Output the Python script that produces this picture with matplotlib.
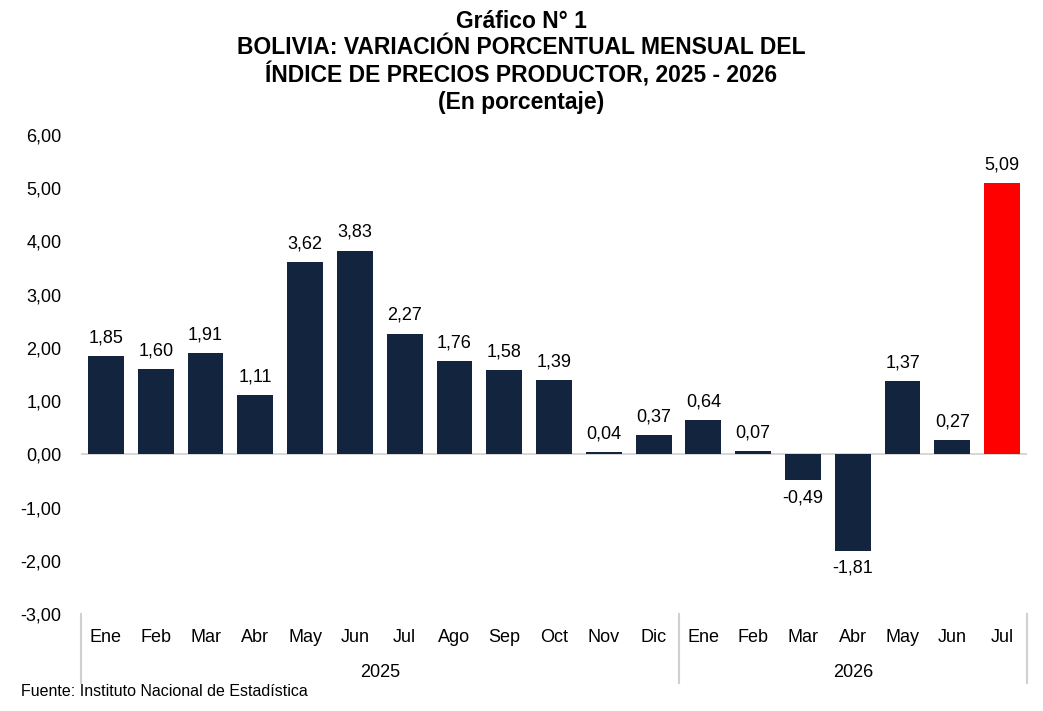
import matplotlib.pyplot as plt
import numpy as np

plt.rcParams['font.family'] = ['Liberation Sans', 'DejaVu Sans']

meses = ["Ene", "Feb", "Mar", "Abr", "May", "Jun", "Jul", "Ago", "Sep", "Oct", "Nov", "Dic",
         "Ene", "Feb", "Mar", "Abr", "May", "Jun", "Jul"]
anios = ["2025", "2026"]
meses_por_anio = [12, 7]
valores = [1.85, 1.60, 1.91, 1.11, 3.62, 3.83, 2.27, 1.76, 1.58, 1.39, 0.04, 0.37,
           0.64, 0.07, -0.49, -1.81, 1.37, 0.27, 5.09]

azul = "#13243f"
rojo = "#ff0000"
gris = "#d0d0d0"

fig = plt.figure(figsize=(10.43, 7.11), dpi=100)
ax = fig.add_axes([0.0777, 0.1364, 0.907, 0.6737])

x = np.arange(len(valores))
colores = [azul] * (len(valores) - 1) + [rojo]
ax.bar(x, valores, width=0.72, color=colores, zorder=2)

for xi, v in zip(x, valores):
    if v >= 0:
        ax.text(xi, v + 0.18, f"{v:.2f}".replace(".", ","), ha="center", va="bottom", fontsize=13)
    else:
        ax.text(xi, v - 0.17, f"{v:.2f}".replace(".", ","), ha="center", va="top", fontsize=13)

ax.set_xlim(-0.5, len(valores) - 0.5)
ax.set_ylim(-3, 6)
ax.set_yticks(np.arange(-3, 7, 1))
ax.set_yticklabels([f"{t:.2f}".replace(".", ",") for t in np.arange(-3, 7, 1)], fontsize=13)
ax.tick_params(axis="y", length=0, pad=14)
ax.set_xticks([])
ax.axhline(0, color=gris, lw=1.2, zorder=1)
for s in ax.spines.values():
    s.set_visible(False)

# etiquetas de meses y años bajo el eje
trans = ax.get_xaxis_transform()
for xi, m in zip(x, meses):
    ax.text(xi, -0.05, m, transform=trans, ha="center", va="center", fontsize=13)

inicio = 0
bordes = [-0.5]
for a, n in zip(anios, meses_por_anio):
    centro = inicio + (n - 1) / 2
    ax.text(centro, -0.123, a, transform=trans, ha="center", va="center", fontsize=13)
    inicio += n
    bordes.append(inicio - 0.5)
for b in bordes:
    ax.plot([b, b], [0, -0.145], transform=trans, color=gris, lw=1.5, clip_on=False)

fig.text(0.5, 0.986, "Gráfico N° 1\nBOLIVIA: VARIACIÓN PORCENTUAL MENSUAL DEL\n"
         "ÍNDICE DE PRECIOS PRODUCTOR, 2025 - 2026\n(En porcentaje)",
         ha="center", va="top", fontsize=16.5, fontweight="bold", linespacing=1.18)
fig.text(0.02, 0.027, "Fuente: Instituto Nacional de Estadística", ha="left", va="center", fontsize=11.5)

fig.savefig("out.png", dpi=100)
